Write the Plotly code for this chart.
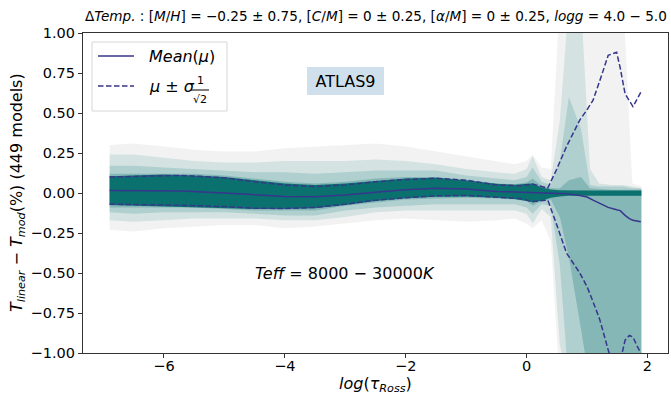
import plotly.graph_objects as go

# ---------------- data ----------------
# common x grid for the envelope bands of the 449 models
band_x = [-6.9, -6.5, -6.0, -5.5, -5.0, -4.5, -4.0, -3.5, -3.0, -2.5, -2.0, -1.5, -1.0, -0.5,
          -0.2, 0.0, 0.1, 0.25, 0.4, 0.55, 0.7, 0.9, 1.05, 1.2, 1.4, 1.6, 1.75, 1.9]

# outer grey envelope
gray_top = [0.30, 0.31, 0.29, 0.27, 0.26, 0.26, 0.28, 0.29, 0.30, 0.31, 0.29, 0.26, 0.23, 0.20,
            0.18, 0.20, 0.24, 0.16, 0.15, 1.2, 1.2, 1.2, 1.2, 1.2, 1.2, 1.2, 0.06, 0.04]
gray_bot = [-0.23, -0.24, -0.22, -0.21, -0.20, -0.20, -0.22, -0.21, -0.19, -0.17, -0.16, -0.17, -0.18, -0.17,
            -0.16, -0.19, -0.22, -0.17, -0.30, -1.2, -1.2, -1.2, -1.2, -1.2, -1.2, -1.2, -1.2, -1.2]
# very faint teal
teal1_top = [0.24, 0.24, 0.22, 0.20, 0.19, 0.19, 0.20, 0.20, 0.20, 0.21, 0.20, 0.18, 0.15, 0.13,
             0.12, 0.15, 0.23, 0.10, 0.08, 0.45, 1.2, 1.2, 0.15, 0.06, 0.05, 0.05, 0.04, 0.03]
teal1_bot = [-0.17, -0.18, -0.17, -0.16, -0.16, -0.16, -0.17, -0.17, -0.15, -0.12, -0.11, -0.11, -0.11, -0.11,
             -0.11, -0.13, -0.19, -0.10, -0.15, -0.95, -1.2, -1.2, -1.2, -1.2, -1.2, -1.2, -1.2, -1.2]
# faint teal
teal2_top = [0.17, 0.17, 0.16, 0.15, 0.14, 0.13, 0.13, 0.12, 0.13, 0.14, 0.14, 0.14, 0.11, 0.09,
             0.08, 0.10, 0.16, 0.07, 0.05, 0.20, 0.60, 0.40, 0.05, 0.04, 0.04, 0.04, 0.03, 0.03]
teal2_bot = [-0.12, -0.13, -0.12, -0.12, -0.12, -0.13, -0.14, -0.14, -0.11, -0.09, -0.08, -0.07, -0.07, -0.07,
             -0.07, -0.09, -0.13, -0.07, -0.08, -0.45, -1.2, -1.2, -1.2, -1.2, -1.2, -1.2, -1.2, -1.2]
# medium teal
teal3_top = [0.12, 0.12, 0.12, 0.12, 0.11, 0.09, 0.07, 0.06, 0.07, 0.09, 0.10, 0.10, 0.08, 0.06,
             0.055, 0.065, 0.09, 0.045, 0.03, 0.03, 0.08, 0.10, 0.03, 0.025, 0.02, 0.02, 0.02, 0.02]
teal3_bot = [-0.09, -0.09, -0.09, -0.09, -0.10, -0.11, -0.11, -0.11, -0.08, -0.06, -0.04, -0.035, -0.03, -0.035,
             -0.04, -0.05, -0.08, -0.05, -0.04, -0.15, -0.40, -0.85, -1.2, -1.2, -1.2, -1.2, -1.2, -1.2]
# dark core
core_top = [0.105, 0.11, 0.115, 0.11, 0.10, 0.08, 0.06, 0.05, 0.06, 0.075, 0.09, 0.095, 0.08, 0.058,
            0.052, 0.058, 0.06, 0.035, 0.022, 0.017, 0.015, 0.015, 0.015, 0.015, 0.015, 0.015, 0.015, 0.015]
core_bot = [-0.075, -0.078, -0.082, -0.088, -0.095, -0.10, -0.10, -0.095, -0.075, -0.05, -0.033, -0.024, -0.022, -0.03,
            -0.038, -0.05, -0.058, -0.048, -0.03, -0.022, -0.017, -0.017, -0.017, -0.017, -0.017, -0.017, -0.017, -0.017]

# statistics lines
stat_x = [-6.9, -6.3, -5.7, -5.0, -4.5, -4.0, -3.5, -3.0, -2.5, -2.0, -1.5, -1.0, -0.5, -0.1, 0.1,
          0.35, 0.5, 0.66, 0.88, 1.0, 1.1, 1.21, 1.35, 1.49, 1.55, 1.63, 1.7, 1.76, 1.82, 1.89]
mean_y = [0.015, 0.015, 0.012, 0.0, -0.012, -0.022, -0.023, -0.012, 0.005, 0.02, 0.03, 0.025, 0.01, 0.005, 0.0,
          -0.002, -0.003, -0.005, -0.015, -0.025, -0.045, -0.065, -0.09, -0.105, -0.11, -0.14, -0.16, -0.17, -0.175, -0.18]
upper_y = [0.10, 0.105, 0.11, 0.095, 0.07, 0.05, 0.04, 0.05, 0.07, 0.085, 0.092, 0.08, 0.05, 0.045, 0.056,
           0.03, 0.15, 0.29, 0.456, 0.52, 0.58, 0.70, 0.86, 0.88, 0.78, 0.62, 0.58, 0.54, 0.58, 0.63]
lower_y = [-0.07, -0.072, -0.077, -0.085, -0.095, -0.097, -0.09, -0.07, -0.045, -0.03, -0.018, -0.015, -0.025, -0.035, -0.054,
           -0.044, -0.20, -0.375, -0.50, -0.585, -0.68, -0.79, -0.98, -1.15, -1.05, -0.92, -0.89, -0.90, -0.95, -1.0]

x_ticks = [-6, -4, -2, 0, 2]
y_ticks = [-1.0, -0.75, -0.5, -0.25, 0.0, 0.25, 0.5, 0.75, 1.0]

title_text = ("Δ<i>Temp.</i> : [<i>M</i>/<i>H</i>] = −0.25 ± 0.75, [<i>C</i>/<i>M</i>] = 0 ± 0.25, "
              "[<i>α</i>/<i>M</i>] = 0 ± 0.25, <i>logg</i> = 4.0 − 5.0")

# ---------------- figure ----------------
W, H = 671, 394
L, R, T, B = 83, 3, 33, 41
PW, PH = W - L - R, H - T - B


def px(x):
    return (x - L) / PW


def py(y):
    return (H - B - y) / PH


LINE_COL = "#36368c"
FONT = "DejaVu Sans"

fig = go.Figure()

bands = [
    (gray_top, gray_bot, "rgba(170,170,170,0.15)"),
    (teal1_top, teal1_bot, "rgba(0,115,115,0.12)"),
    (teal2_top, teal2_bot, "rgba(0,115,115,0.17)"),
    (teal3_top, teal3_bot, "rgba(0,110,110,0.24)"),
    (core_top, core_bot, "rgba(0,106,103,0.92)"),
]
for top, bot, col in bands:
    fig.add_trace(go.Scatter(x=band_x + band_x[::-1], y=top + bot[::-1], fill="toself",
                             fillcolor=col, line=dict(width=0), mode="lines",
                             hoverinfo="skip", showlegend=False))

fig.add_trace(go.Scatter(x=stat_x, y=mean_y, mode="lines", line=dict(color=LINE_COL, width=1.5),
                         showlegend=False))
for yy in (upper_y, lower_y):
    fig.add_trace(go.Scatter(x=stat_x, y=yy, mode="lines",
                             line=dict(color=LINE_COL, width=1.5, dash="5.5px,2.5px"),
                             showlegend=False))

axis_common = dict(showline=True, mirror=True, linecolor="#333333", linewidth=1.2,
                   ticks="outside", ticklen=4, tickwidth=1.1, tickcolor="#333333",
                   showgrid=False, zeroline=False,
                   tickfont=dict(family=FONT, size=14.5, color="black"))

fig.update_layout(
    width=W, height=H,
    margin=dict(l=L, r=R, t=T, b=B, pad=0),
    paper_bgcolor="white", plot_bgcolor="white",
    font=dict(family=FONT, color="black"),
    showlegend=False,
    xaxis=dict(range=[-7.34, 2.34], tickvals=x_ticks, ticklabelstandoff=-5, **axis_common),
    yaxis=dict(range=[-1.0, 1.0], tickvals=y_ticks, tickformat=".2f", **axis_common),
)

ann = []
# title
ann.append(dict(x=0.5, y=py(16), xref="paper", yref="paper", text=title_text, showarrow=False,
                xanchor="center", yanchor="middle", font=dict(size=13.6, family=FONT)))
# axis titles
ann.append(dict(x=0.5, y=py(384), xref="paper", yref="paper",
                text="<i>log</i>(<i>τ<sub>Ross</sub></i>)", showarrow=False,
                xanchor="center", yanchor="middle", font=dict(size=16, family=FONT)))
ann.append(dict(x=px(17), y=0.5, xref="paper", yref="paper", textangle=-90,
                text="<i>T<sub>linear</sub></i> − <i>T<sub>mod</sub></i>(%) (449 models)",
                showarrow=False, xanchor="center", yanchor="middle", font=dict(size=16, family=FONT)))
# in-plot labels
ann.append(dict(x=-3.0, y=0.7, xref="x", yref="y", text="ATLAS9", showarrow=False,
                font=dict(size=16, family=FONT), bgcolor="#cfe0ec", borderpad=4, borderwidth=0,
                width=69, height=20, xanchor="center", yanchor="middle"))
ann.append(dict(x=-3.0, y=-0.5, xref="x", yref="y",
                text="<i>Teff</i> = 8000 − 30000<i>K</i>", showarrow=False,
                font=dict(size=16, family=FONT), xanchor="center", yanchor="middle"))
# legend texts
ann.append(dict(x=px(147), y=py(56), xref="paper", yref="paper", text="<i>Mean</i>(<i>μ</i>)",
                showarrow=False, xanchor="left", yanchor="middle", font=dict(size=16, family=FONT)))
ann.append(dict(x=px(147), y=py(86), xref="paper", yref="paper", text="<i>μ</i> ± <i>σ</i>",
                showarrow=False, xanchor="left", yanchor="middle", font=dict(size=16, family=FONT)))
ann.append(dict(x=px(200), y=py(80), xref="paper", yref="paper", text="1",
                showarrow=False, xanchor="center", yanchor="middle", font=dict(size=11, family=FONT)))
ann.append(dict(x=px(200), y=py(99), xref="paper", yref="paper", text="√2",
                showarrow=False, xanchor="center", yanchor="middle", font=dict(size=11, family=FONT)))
fig.update_layout(annotations=ann)

# legend frame and samples
shapes = [
    dict(type="rect", xref="paper", yref="paper", x0=px(92), x1=px(227), y0=py(111), y1=py(42),
         line=dict(color="#d6d6d6", width=1), fillcolor="rgba(255,255,255,0.85)", layer="above"),
    dict(type="line", xref="paper", yref="paper", x0=px(98), x1=px(134), y0=py(56), y1=py(56),
         line=dict(color=LINE_COL, width=1.5), layer="above"),
    dict(type="line", xref="paper", yref="paper", x0=px(98), x1=px(134), y0=py(86), y1=py(86),
         line=dict(color=LINE_COL, width=1.5, dash="5.5px,2.5px"), layer="above"),
    dict(type="line", xref="paper", yref="paper", x0=px(191), x1=px(209), y0=py(90), y1=py(90),
         line=dict(color="black", width=1), layer="above"),
]
fig.update_layout(shapes=shapes)

fig.write_html("out.html")
